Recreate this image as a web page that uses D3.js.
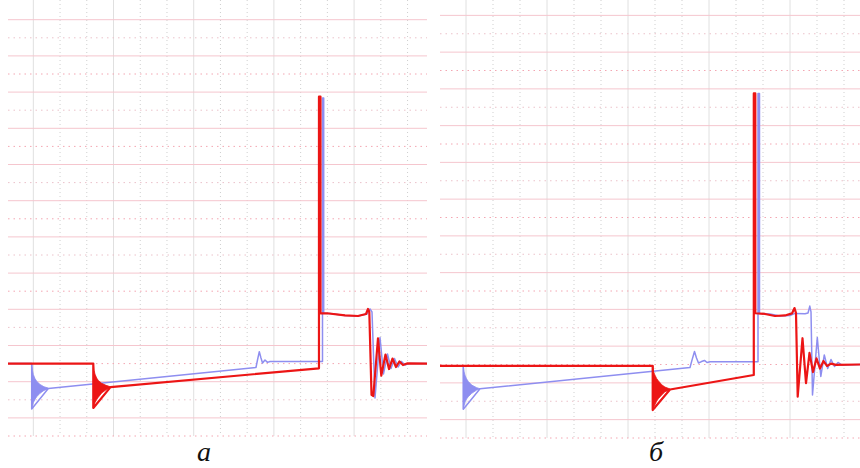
<!DOCTYPE html>
<html>
<head>
<meta charset="utf-8">
<script src="https://cdn.jsdelivr.net/npm/d3@7"></script>
<style>
  html, body { margin: 0; padding: 0; background: #ffffff; }
  svg { display: block; }
</style>
</head>
<body>
<svg id="chart" width="860" height="468"></svg>
<script>
// Oscillogram grid, in minor divisions
const xMajorLines = [1, 4, 7, 10, 13];
const xMinorLines = [2, 3, 5, 6, 8, 9, 11, 12, 14, 15];
const yMajorLines = [1, 3, 5, 7, 9, 11, 13, 15, 17, 19, 21, 23];
const yMinorLines = [0, 2, 4, 6, 8, 10, 12, 14, 16, 18, 20, 22];

const panelLabels = ["а", "б"];

// Panel а — traces [t, u]
const blueA = [
  [0.05, 4.0], [0.939, 4.0], [0.939, 1.49], [1.560, 2.62],
  [9.331, 3.79], [9.386, 4.20], [9.454, 4.66], [9.517, 4.31], [9.574, 4.03],
  [9.667, 4.20], [9.761, 4.07], [9.854, 4.12], [11.818, 4.12],
  [11.818, 18.67], [11.863, 18.67], [11.863, 6.78],
  [12.099, 6.77], [12.660, 6.66], [13.146, 6.63], [13.483, 6.74],
  [13.596, 7.02], [13.670, 6.85], [13.782, 2.10], [13.969, 5.44],
  [14.100, 3.43], [14.250, 4.53], [14.381, 3.73], [14.512, 4.28],
  [14.643, 3.81], [14.774, 4.12], [14.905, 3.92], [15.054, 4.0], [15.728, 4.0]
];
const redA = [
  [0.05, 4.0], [3.244, 4.0], [3.244, 1.55], [3.887, 2.70],
  [11.686, 3.74], [11.686, 18.75], [11.743, 18.75], [11.743, 6.78],
  [11.984, 6.78], [12.660, 6.66], [13.146, 6.63], [13.446, 6.74],
  [13.521, 7.02], [13.569, 6.85], [13.652, 2.27], [13.719, 2.21],
  [13.894, 5.40], [14.018, 3.34], [14.175, 4.50], [14.306, 3.70],
  [14.437, 4.28], [14.568, 3.81], [14.699, 4.12], [14.830, 3.92],
  [14.979, 4.01], [15.728, 4.0]
];
// ringing envelopes [t, upper, lower]
const blueRingA = [
  [0.939, 4.0, 1.49], [0.970, 3.62, 1.66], [0.999, 3.40, 1.84], [1.060, 3.18, 2.02],
  [1.126, 3.02, 2.17], [1.250, 2.85, 2.36], [1.399, 2.72, 2.52], [1.560, 2.65, 2.60]
];
const redRingA = [
  [3.244, 4.0, 1.55], [3.275, 3.62, 1.70], [3.306, 3.42, 1.84], [3.370, 3.20, 2.02],
  [3.431, 3.07, 2.14], [3.557, 2.91, 2.38], [3.719, 2.80, 2.55], [3.887, 2.72, 2.68]
];

// Panel б — traces [t, u]
const blueB = [
  [0.037, 3.93], [0.900, 3.93], [0.900, 1.57], [1.519, 2.68],
  [9.296, 3.84], [9.370, 4.24], [9.463, 4.71], [9.537, 4.35], [9.611, 4.08],
  [9.722, 4.16], [9.833, 4.22], [9.926, 4.11], [10.037, 4.15], [11.815, 4.15],
  [11.815, 18.75], [11.870, 18.75], [11.870, 6.78],
  [12.259, 6.75], [12.630, 6.64], [13.000, 6.67], [13.185, 6.78],
  [13.556, 6.76], [13.667, 6.80], [13.733, 7.18], [13.778, 6.86],
  [13.833, 2.34], [14.011, 5.47], [14.141, 3.35], [14.270, 4.52],
  [14.396, 3.78], [14.519, 4.27], [14.648, 3.89], [14.778, 4.11],
  [14.926, 3.97], [15.593, 4.0]
];
const redB = [
  [0.037, 3.93], [7.915, 3.93], [7.915, 1.52], [8.556, 2.64],
  [11.659, 3.43], [11.659, 18.75], [11.715, 18.75], [11.715, 6.79],
  [12.074, 6.75], [12.444, 6.64], [12.815, 6.67], [13.074, 6.78],
  [13.167, 7.07], [13.222, 6.80], [13.285, 2.25], [13.463, 5.43],
  [13.593, 2.99], [13.722, 4.63], [13.852, 3.59], [13.981, 4.33],
  [14.111, 3.78], [14.241, 4.19], [14.370, 3.92], [14.519, 4.05],
  [14.704, 3.98], [15.593, 4.0]
];
const blueRingB = [
  [0.900, 3.93, 1.57], [0.931, 3.60, 1.76], [0.963, 3.42, 1.96], [1.020, 3.22, 2.12],
  [1.085, 3.08, 2.25], [1.211, 2.88, 2.43], [1.396, 2.74, 2.61], [1.519, 2.68, 2.67]
];
const redRingB = [
  [7.915, 3.93, 1.52], [7.946, 3.60, 1.66], [8.000, 3.42, 1.82], [8.060, 3.24, 2.00],
  [8.122, 3.12, 2.14], [8.248, 2.90, 2.34], [8.370, 2.77, 2.52], [8.556, 2.67, 2.61]
];

const BLUE = "#8e8ef0";
const RED = "#ec1515";

const panels = [
  { label: panelLabels[0], left: 8, right: 427, xDom: [0, 15.75], xRange: [6.6, 427.6],
    yRange: [436, 1.6], bottom: 436, top: 0, labelX: 204,
    blue: blueA, red: redA, blueRing: blueRingA, redRing: redRingA },
  { label: panelLabels[1], left: 440, right: 860, xDom: [0, 15.6], xRange: [439, 860.2],
    yRange: [438, -3], bottom: 438, top: 0, labelX: 656,
    blue: blueB, red: redB, blueRing: blueRingB, redRing: redRingB }
];

const svg = d3.select("#chart");

panels.forEach((p, i) => {
  const x = d3.scaleLinear().domain(p.xDom).range(p.xRange);
  const y = d3.scaleLinear().domain([0, 24]).range(p.yRange);

  const clipId = "clip" + i;
  svg.append("clipPath").attr("id", clipId)
    .append("rect")
    .attr("x", p.left).attr("y", p.top)
    .attr("width", p.right - p.left).attr("height", p.bottom - p.top + 1);

  const g = svg.append("g").attr("clip-path", `url(#${clipId})`);

  // vertical grid
  g.selectAll(".vmin").data(xMinorLines).join("line")
    .attr("x1", d => x(d)).attr("x2", d => x(d))
    .attr("y1", p.top).attr("y2", p.bottom)
    .attr("stroke", "#cfcfcf").attr("stroke-width", 1)
    .attr("stroke-dasharray", "1,3");
  g.selectAll(".vmaj").data(xMajorLines).join("line")
    .attr("x1", d => x(d)).attr("x2", d => x(d))
    .attr("y1", p.top).attr("y2", p.bottom)
    .attr("stroke", "#e0e0e0").attr("stroke-width", 1);

  // horizontal grid
  g.selectAll(".hmin").data(yMinorLines).join("line")
    .attr("x1", p.left).attr("x2", p.right)
    .attr("y1", d => y(d)).attr("y2", d => y(d))
    .attr("stroke", (d, k) => k % 2 ? "#ebc2ca" : "#f3a6b2").attr("stroke-width", 1)
    .attr("stroke-dasharray", "1.5,4");
  g.selectAll(".hmaj").data(yMajorLines).join("line")
    .attr("x1", p.left).attr("x2", p.right)
    .attr("y1", d => y(d)).attr("y2", d => y(d))
    .attr("stroke", "#f5c6ce").attr("stroke-width", 1);

  const line = d3.line().x(d => x(d[0])).y(d => y(d[1]));
  const area = d3.area().x(d => x(d[0])).y0(d => y(d[2])).y1(d => y(d[1]));

  // blue trace
  g.append("path").datum(p.blueRing).attr("d", area)
    .attr("fill", BLUE).attr("stroke", BLUE).attr("stroke-width", 0.8);
  g.append("path").datum(p.blue).attr("d", line)
    .attr("fill", "none").attr("stroke", BLUE).attr("stroke-width", 1.5)
    .attr("stroke-linejoin", "round");

  // red trace
  g.append("path").datum(p.redRing).attr("d", area)
    .attr("fill", RED).attr("stroke", RED).attr("stroke-width", 0.8);
  g.append("path").datum(p.red).attr("d", line)
    .attr("fill", "none").attr("stroke", RED).attr("stroke-width", 2.2)
    .attr("stroke-linejoin", "round");

  svg.append("text")
    .attr("x", p.labelX).attr("y", 461)
    .attr("text-anchor", "middle")
    .attr("font-family", "'Liberation Serif', 'DejaVu Serif', serif")
    .attr("font-style", "italic")
    .attr("font-size", 28)
    .attr("fill", "#111")
    .text(p.label);
});
</script>
</body>
</html>
